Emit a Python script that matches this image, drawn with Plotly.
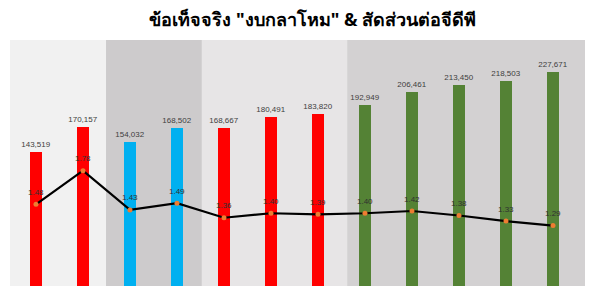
import plotly.graph_objects as go

years = list(range(12))
budget = [143519, 170157, 154032, 168502, 168667, 180491, 183820,
          192949, 206461, 213450, 218503, 227671]
gdp_ratio = [1.48, 1.78, 1.43, 1.49, 1.36, 1.40, 1.39, 1.40, 1.42, 1.38, 1.33, 1.29]
bar_colors = ["#ff0000", "#ff0000", "#00b0f0", "#00b0f0", "#ff0000", "#ff0000", "#ff0000",
              "#548235", "#548235", "#548235", "#548235", "#548235"]
band_edges = [-0.553, 1.49, 3.53, 6.62, 11.745]
band_colors = ["#f1f1f1", "#cdcbcc", "#e7e5e6", "#d3d1d2"]
title = 'ข้อเท็จจริง "งบกลาโหม" & สัดส่วนต่อจีดีพี'

fig = go.Figure()
fig.add_trace(go.Bar(
    x=years, y=budget, marker=dict(color=bar_colors, line=dict(width=0)),
    width=0.27, texttemplate="%{y:,}", textposition="outside",
    textfont=dict(size=8, color="#404040", family="Liberation Sans"),
    constraintext="none", cliponaxis=False, showlegend=False,
))
fig.add_trace(go.Scatter(
    x=years, y=gdp_ratio, yaxis="y2", mode="lines+markers",
    line=dict(color="#000000", width=2.2),
    marker=dict(color="#ed7d31", size=5),
    cliponaxis=False, showlegend=False,
))
for xi, v in zip(years, gdp_ratio):
    fig.add_annotation(x=xi, y=v, xref="x", yref="y2", text=f"{v:.2f}", showarrow=False,
                       yshift=12, font=dict(size=8, color="#303030", family="Liberation Sans"))
for i in range(4):
    fig.add_shape(type="rect", xref="x", yref="paper", x0=band_edges[i], x1=band_edges[i + 1],
                  y0=0, y1=1, fillcolor=band_colors[i], line=dict(width=0), layer="below")

fig.update_layout(
    width=593, height=286,
    margin=dict(l=2, r=13, t=32, b=0),
    paper_bgcolor="white", plot_bgcolor="white",
    title=dict(text=title, x=0.514, xanchor="center", y=0.958, yanchor="middle",
               font=dict(size=18, color="#000000", family="Noto Sans, Tahoma, sans-serif", weight="bold")),
    xaxis=dict(range=[band_edges[0], band_edges[-1]], visible=False),
    yaxis=dict(range=[-5900, 261300], visible=False),
    yaxis2=dict(range=[0.679, 2.947], overlaying="y", visible=False),
    bargap=0,
)
fig.write_html("out.html")
